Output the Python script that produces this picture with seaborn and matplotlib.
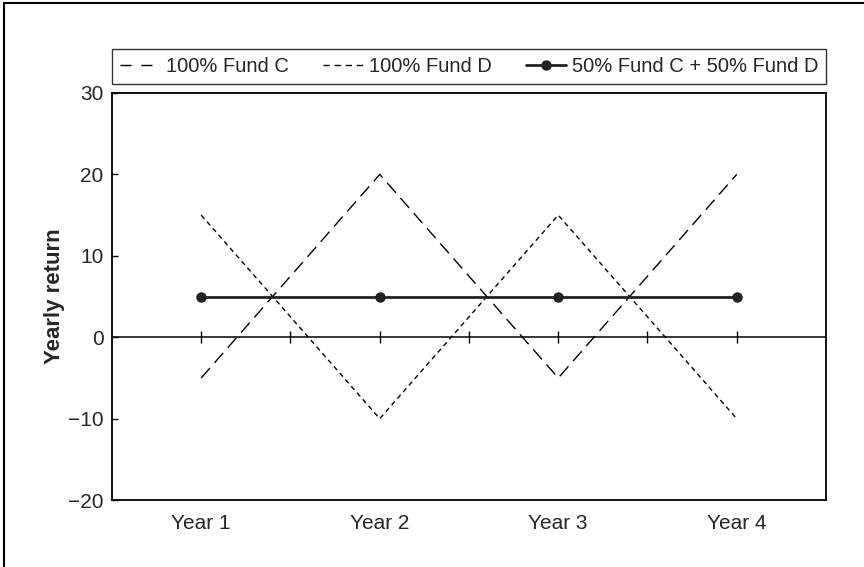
import seaborn as sns
import matplotlib.pyplot as plt
import pandas as pd
from matplotlib.lines import Line2D

# data
years = ["Year 1", "Year 2", "Year 3", "Year 4"]
fund_c = [-5, 20, -5, 20]
fund_d = [15, -10, 15, -10]
mix = [5, 5, 5, 5]
zero_marks = [1, 1.5, 2, 2.5, 3, 3.5, 4]
y_ticks = [-20, -10, 0, 10, 20, 30]

sns.set_theme(style="white")
plt.rcParams['font.family'] = ['Liberation Sans', 'DejaVu Sans']
plt.rcParams['axes.unicode_minus'] = True

x = list(range(1, len(years) + 1))
data = pd.DataFrame({"x": x, "C": fund_c, "D": fund_d, "CD": mix})

fig = plt.figure(figsize=(8.64, 5.67), dpi=100)
ax = fig.add_axes([0.1296, 0.118, 0.8264, 0.718])

sns.lineplot(data=data, x="x", y="C", ax=ax, color="black", lw=1.0)
sns.lineplot(data=data, x="x", y="D", ax=ax, color="black", lw=1.0)
sns.lineplot(data=data, x="x", y="CD", ax=ax, color="#222222", lw=2.0,
             marker="o", markersize=7.5, markeredgewidth=0)
ax.lines[0].set_dashes((9.5, 5))
ax.lines[1].set_dashes((3.5, 2.8))

# zero line with small ticks at each half year
ax.axhline(0, color="black", lw=1.1, zorder=1)
ax.plot(zero_marks, [0] * len(zero_marks), ls="none", marker="|",
        markersize=9, markeredgewidth=1.0, color="black")

ax.set_xlim(0.5, 4.5)
ax.set_ylim(-20, 30)
ax.set_xticks(x)
ax.set_xticklabels(years, fontsize=15)
ax.set_yticks(y_ticks)
ax.tick_params(axis="y", direction="in", length=4, width=1, left=True,
               labelsize=15, pad=6, color="black")
ax.tick_params(axis="x", length=0, pad=10)
for s in ax.spines.values():
    s.set_color("black")
    s.set_linewidth(1.3)
ax.set_xlabel("")
ax.set_ylabel("Yearly return", fontsize=16, fontweight="bold", labelpad=2)

handles = [
    Line2D([], [], color="black", lw=1.0, dashes=(8, 7)),
    Line2D([], [], color="black", lw=1.0, dashes=(4.5, 3.5)),
    Line2D([], [], color="#222222", lw=2.0, marker="o", markersize=7.5,
           markeredgewidth=0),
]
labels = ["100% Fund C", "100% Fund D", "50% Fund C + 50% Fund D"]
leg = ax.legend(handles, labels, loc="lower left", bbox_to_anchor=(0, 1.023, 1, 0.08),
                mode="expand", ncol=3, fontsize=14.5, frameon=True, fancybox=False,
                handlelength=2.0, handletextpad=0.3, columnspacing=0.6,
                borderaxespad=0, borderpad=0.38)
leg.get_frame().set_edgecolor("black")
leg.get_frame().set_linewidth(1.0)

# scan border at top and left
fig.add_artist(Line2D([0.0046, 0.0046], [0, 0.9947], color="black", lw=1.5))
fig.add_artist(Line2D([0.0046, 1], [0.9947, 0.9947], color="black", lw=1.5))

fig.savefig("out.png", dpi=100)
